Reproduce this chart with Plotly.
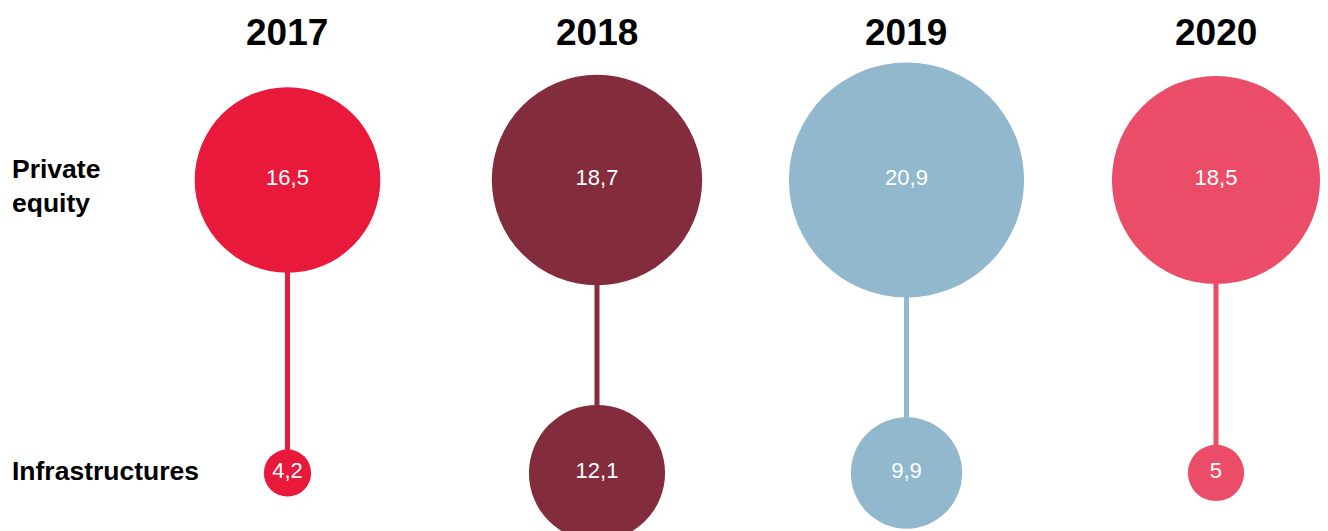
import plotly.graph_objects as go

years = [2017, 2018, 2019, 2020]
private_equity = [16.5, 18.7, 20.9, 18.5]
infrastructures = [4.2, 12.1, 9.9, 5.0]
colors = ["#E8193B", "#822C3C", "#91B8CC", "#EB4D69"]
row_labels = ["Private<br>equity", "Infrastructures"]

FONT = "Liberation Sans, Arial, Helvetica, sans-serif"
PX_PER_UNIT = 11.25  # circle diameter in px per unit of value


def fmt(v):
    return f"{v:g}".replace(".", ",")


fig = go.Figure()

# connector lines
for yr, pe, inf, c in zip(years, private_equity, infrastructures, colors):
    fig.add_trace(go.Scatter(
        x=[yr, yr], y=[1, 0], mode="lines",
        line=dict(color=c, width=5), hoverinfo="skip", showlegend=False,
    ))

# circles
for row_y, vals in ((1, private_equity), (0, infrastructures)):
    fig.add_trace(go.Scatter(
        x=years, y=[row_y] * len(years),
        mode="markers+text",
        marker=dict(size=vals, sizemode="diameter", sizeref=1 / PX_PER_UNIT,
                    color=colors, line=dict(width=0), opacity=1),
        text=[fmt(v) for v in vals],
        textposition="middle center",
        textfont=dict(family=FONT, size=22, color="white"),
        cliponaxis=False,
        hoverinfo="skip", showlegend=False,
    ))

annotations = []
for yr in years:
    annotations.append(dict(
        x=yr, xref="x", y=1.5017, yref="y", text=f"<b>{yr}</b>",
        showarrow=False, xanchor="center", yanchor="middle",
        font=dict(family=FONT, size=37, color="black"),
    ))
for row_y, lab in zip((1, 0), row_labels):
    annotations.append(dict(
        x=10 / 1328, xref="paper", y=row_y, yref="y", text=f"<b>{lab}</b>",
        showarrow=False, xanchor="left", yanchor="middle", align="left",
        yshift=-6 if row_y == 1 else 2,
        font=dict(family=FONT, size=26.5, color="black"),
    ))

fig.update_layout(
    width=1328, height=531,
    margin=dict(l=0, r=0, t=0, b=0),
    paper_bgcolor="white", plot_bgcolor="white",
    xaxis=dict(range=[2016.0711, 2020.3619], visible=False, fixedrange=True),
    yaxis=dict(range=[-0.198, 1.6143], visible=False, fixedrange=True),
    annotations=annotations,
    showlegend=False,
)

fig.write_html("out.html")
